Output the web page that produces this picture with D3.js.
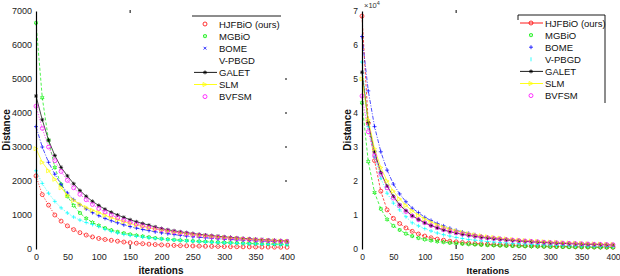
<!DOCTYPE html>
<html><head><meta charset="utf-8">
<script src="https://cdn.jsdelivr.net/npm/d3@7"></script>
<style>body{margin:0;background:#fff}svg{display:block}text{font-family:"Liberation Sans",Arial,sans-serif}</style>
</head><body><svg id="c" width="620" height="276"></svg>
<script>
const iterations = d3.range(0, 401, 10);
const seriesNames = ["HJFBiO (ours)","MGBiO","BOME","V-PBGD","GALET","SLM","BVFSM"];
const xTicks = [0,50,100,150,200,250,300,350,400];
const leftYTicks = [0,1000,2000,3000,4000,5000,6000,7000];
const rightYTicks = [0,1,2,3,4,5,6,7];

// left panel (Distance)
const L_HJFBiO = [2150,1600,1290,1000,820,680,570,480,410,355,310,280,255,230,205,185,170,155,142,130,120,112,105,99,94,89,85,81,78,75,72,69,66,64,62,60,58,56,54,52,50];
const L_MGBiO  = [6650,4450,3200,2400,1900,1550,1280,1060,900,780,690,615,555,505,465,430,400,372,346,322,300,285,271,258,246,235,225,216,207,199,191,184,177,171,165,160,155,150,146,142,138];
const L_BOME   = [3600,3000,2550,2200,1900,1650,1450,1300,1180,1070,980,900,830,770,710,660,615,575,540,505,475,450,425,400,380,360,345,330,315,300,290,278,268,258,248,240,232,225,218,211,205];
const L_VPBGD  = [2300,1930,1640,1400,1210,1060,940,850,780,720,660,580,520,470,430,400,375,350,330,310,292,276,261,248,236,224,213,203,194,185,177,170,163,156,150,144,139,134,129,124,120];
const L_GALET  = [4500,3800,3200,2750,2400,2150,1920,1720,1550,1400,1280,1170,1080,1000,930,860,800,750,700,650,600,565,535,505,480,455,432,412,393,375,358,342,327,313,300,288,277,266,256,247,238];
const L_SLM    = [2950,2550,2300,2050,1800,1580,1430,1310,1220,1140,1070,990,920,860,800,750,700,660,620,585,550,520,492,466,442,420,400,381,363,347,332,318,305,293,281,270,260,251,242,234,226];
const L_BVFSM  = [4200,3550,3000,2600,2280,2020,1800,1610,1450,1310,1190,1090,1000,920,850,790,735,685,640,600,565,530,500,472,447,423,401,381,362,345,329,314,300,287,275,264,253,243,234,225,217];

// right panel (Distance, in units of 10^4)
const R_HJFBiO = [6.85,3.7,2.6,1.7,1.15,0.9,0.75,0.62,0.52,0.44,0.38,0.33,0.29,0.26,0.23,0.21,0.19,0.175,0.16,0.15,0.14,0.13,0.122,0.115,0.108,0.102,0.097,0.092,0.087,0.083,0.079,0.075,0.072,0.069,0.066,0.063,0.06,0.058,0.056,0.054,0.052];
const R_MGBiO  = [4.3,2.57,1.66,1.18,0.87,0.68,0.56,0.45,0.38,0.32,0.28,0.25,0.22,0.2,0.18,0.165,0.15,0.14,0.13,0.12,0.112,0.105,0.098,0.092,0.087,0.082,0.078,0.074,0.07,0.067,0.064,0.061,0.058,0.056,0.054,0.052,0.05,0.048,0.046,0.044,0.043];
const R_BOME   = [6.25,4.65,3.6,2.86,2.32,1.91,1.62,1.39,1.2,1.07,0.93,0.84,0.75,0.68,0.61,0.55,0.5,0.46,0.42,0.38,0.35,0.33,0.31,0.29,0.27,0.255,0.24,0.228,0.216,0.205,0.195,0.186,0.178,0.17,0.163,0.156,0.15,0.144,0.138,0.133,0.128];
const R_VPBGD  = [5.5,3.6,2.7,2.08,1.64,1.35,1.15,0.95,0.77,0.68,0.6,0.53,0.47,0.42,0.38,0.34,0.31,0.28,0.26,0.24,0.22,0.205,0.19,0.178,0.166,0.156,0.147,0.138,0.13,0.123,0.117,0.111,0.105,0.1,0.095,0.09,0.086,0.082,0.078,0.075,0.072];
const R_GALET  = [5.2,3.72,2.86,2.25,1.85,1.55,1.3,1.13,0.98,0.87,0.77,0.69,0.62,0.56,0.51,0.47,0.43,0.4,0.37,0.34,0.32,0.3,0.28,0.265,0.25,0.235,0.222,0.21,0.2,0.19,0.18,0.172,0.164,0.157,0.15,0.144,0.138,0.132,0.127,0.122,0.118];
const R_SLM    = [5.0,3.8,2.95,2.4,2.0,1.7,1.47,1.28,1.12,0.99,0.88,0.79,0.71,0.64,0.58,0.53,0.49,0.45,0.42,0.39,0.36,0.34,0.32,0.3,0.28,0.265,0.25,0.238,0.226,0.215,0.205,0.196,0.188,0.18,0.172,0.165,0.158,0.152,0.146,0.14,0.135];
const R_BVFSM  = [4.5,3.45,2.75,2.2,1.8,1.5,1.27,1.1,0.97,0.86,0.77,0.69,0.63,0.57,0.52,0.48,0.44,0.41,0.38,0.35,0.33,0.31,0.29,0.275,0.26,0.246,0.233,0.221,0.21,0.2,0.19,0.182,0.174,0.166,0.159,0.152,0.146,0.14,0.135,0.13,0.125];

const svg = d3.select("#c");
const colors = ["#ff0000","#00ee00","#0000ff","#00ffff","#000000","#ffff00","#ff00ff"];

function marker(type, s){
  switch(type){
    case "o": return d3.symbol(d3.symbolCircle, s*s*3.1)();
    case "+": return `M${-s},0H${s}M0,${-s}V${s}`;
    case "x": return `M${-s*.7},${-s*.7}L${s*.7},${s*.7}M${-s*.7},${s*.7}L${s*.7},${-s*.7}`;
    case "|": return `M0,${-s}V${s}`;
    case "*": return `M${-s},0H${s}M0,${-s}V${s}M${-s*.7},${-s*.7}L${s*.7},${s*.7}M${-s*.7},${s*.7}L${s*.7},${-s*.7}`;
    case ">": return `M${-s},${-s}L${s},0L${-s},${s}Z`;
    case "h": { let p=[]; for(let i=0;i<12;i++){const r=i%2?s*0.55:s; const a=Math.PI/6*i-Math.PI/2; p.push([r*Math.cos(a), r*Math.sin(a)]);} return "M"+p.join("L")+"Z"; }
  }
}

function panel(cfg){
  const x = d3.scaleLinear().domain([0,400]).range([cfg.x0, cfg.x1]);
  const y = d3.scaleLinear().domain([0, cfg.ymax]).range([249, 11]);
  const g = svg.append("g");
  cfg.data.forEach((vals,i)=>{
    const line = d3.line().x((d,j)=>x(iterations[j])).y(d=>y(d));
    g.append("path").attr("d", line(vals)).attr("fill","none")
      .attr("stroke", colors[i]).attr("stroke-width", 0.7)
      .attr("stroke-dasharray", cfg.dash[i]);
    g.append("g").selectAll("path").data(vals).join("path")
      .attr("transform",(d,j)=>`translate(${x(iterations[j])},${y(d)})`)
      .attr("d", marker(cfg.mk[i], 2)).attr("fill","none")
      .attr("stroke", colors[i]).attr("stroke-width", 0.7);
  });
  const ya = d3.axisLeft(y).tickValues(cfg.yticks).tickFormat(d3.format("d")).tickSize(0).tickPadding(cfg.ypad);
  const yg = g.append("g").attr("transform",`translate(${cfg.x0},0)`).call(ya);
  yg.select(".domain").attr("stroke","#000").attr("stroke-width",1.2);
  yg.selectAll("text").attr("font-size", cfg.fs).attr("fill","#222").style("font-family","Liberation Sans, Arial");
  const xa = d3.axisBottom(x).tickValues(xTicks).tickFormat(d3.format("d")).tickSize(0).tickPadding(5);
  const xg = g.append("g").attr("transform",`translate(0,249)`).call(xa);
  xg.select(".domain").remove();
  xg.selectAll("text").attr("font-size", cfg.fs).attr("fill","#222").style("font-family","Liberation Sans, Arial");
  g.append("line").attr("x1",x(150)).attr("x2",x(150)).attr("y1",10).attr("y2",13).attr("stroke","#000");
  g.append("line").attr("x1",x(150)).attr("x2",x(150)).attr("y1",245).attr("y2",249).attr("stroke","#000");
  g.append("text").attr("transform",`translate(${cfg.ylx},130) rotate(-90)`).attr("text-anchor","middle")
    .attr("dominant-baseline","central")
    .attr("font-size",10).attr("font-weight","bold").attr("fill","#111").text("Distance");
  g.append("text").attr("x",cfg.xlx).attr("y",274).attr("text-anchor","middle")
    .attr("font-size",cfg.xlfs).attr("font-weight","bold").attr("fill","#111").text(cfg.xlabel);
  const lg = svg.append("g");
  lg.append("line").attr("x1",cfg.lx0).attr("x2",cfg.lx1).attr("y1",cfg.ly0).attr("y2",cfg.ly0).attr("stroke","#000").attr("stroke-width",0.9);
  if(cfg.lbox){
    lg.append("line").attr("x1",cfg.lx1).attr("x2",cfg.lx1).attr("y1",cfg.ly0).attr("y2",cfg.ly0+88).attr("stroke","#000").attr("stroke-width",0.9);
    lg.append("line").attr("x1",cfg.lx0).attr("x2",cfg.lx0).attr("y1",cfg.ly0).attr("y2",cfg.ly0+5).attr("stroke","#000").attr("stroke-width",0.9);
  }
  seriesNames.forEach((n,i)=>{
    const yy = cfg.ly0 + 8 + i*12.1;
    if(cfg.lline[i]) lg.append("line").attr("x1",cfg.lx0+2).attr("x2",cfg.lx0+25).attr("y1",yy).attr("y2",yy).attr("stroke",colors[i]).attr("stroke-width",0.9);
    if(cfg.lmk[i]) lg.append("path").attr("transform",`translate(${cfg.lx0+13},${yy})`).attr("d",marker(cfg.lmk[i],2)).attr("fill","none").attr("stroke",colors[i]).attr("stroke-width",0.8);
    lg.append("text").attr("x",cfg.lx0+27).attr("y",yy+3.5).attr("font-size",9.5).attr("fill","#111").text(n);
  });
}

panel({x0:36, x1:287, ymax:7000, yticks:leftYTicks, fs:9, ypad:4, ylx:6, xlx:161, xlfs:10, xlabel:"iterations",
  data:[L_HJFBiO,L_MGBiO,L_BOME,L_VPBGD,L_GALET,L_SLM,L_BVFSM],
  dash:["1.2,1.5","3,2","4,1.5,1,1.5","1.2,1.5",null,null,"1.2,1.5"],
  mk:["o","h","+","+","*",">","o"],
  lx0:192, lx1:281, ly0:16, lbox:false,
  lline:[0,0,0,0,1,1,0], lmk:["o","h","x",null,"*",">","o"]});

panel({x0:362, x1:613, ymax:7, yticks:rightYTicks, fs:8.5, ypad:4, ylx:347, xlx:488, xlfs:9.5, xlabel:"Iterations",
  data:[R_HJFBiO,R_MGBiO,R_BOME,R_VPBGD,R_GALET,R_SLM,R_BVFSM],
  dash:["2.5,1.5","3,2","4,1.5,1,1.5","1.2,1.5",null,null,"1.2,1.5"],
  mk:["o","h","+","+","*",">","o"],
  lx0:518, lx1:605, ly0:15, lbox:true,
  lline:[1,0,0,0,1,1,0], lmk:["o","h","+","|","*",">","o"]});

[5000,4000,3000,2000].forEach(v=>{
  const yy = d3.scaleLinear().domain([0,7000]).range([249,11])(v);
  svg.append("line").attr("x1",285).attr("x2",287).attr("y1",yy).attr("y2",yy).attr("stroke","#000");
});
const ex = svg.append("text").attr("x",364).attr("y",8).attr("font-size",7.5).attr("fill","#333");
ex.append("tspan").text("×10");
ex.append("tspan").attr("dy",-3).attr("font-size",5.5).text("4");
</script></body></html>
